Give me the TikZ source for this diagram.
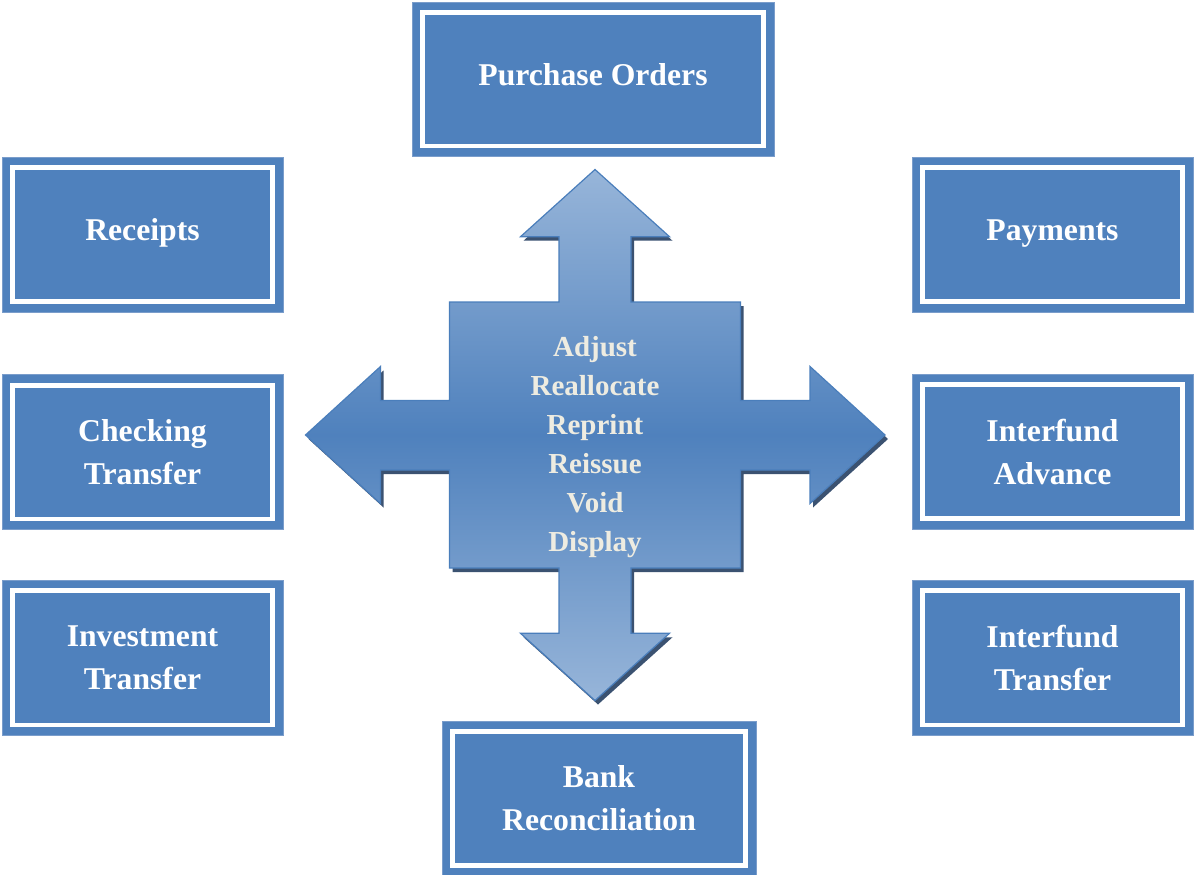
\documentclass[tikz,border=0pt]{standalone}
\usepackage{fontspec}
\setmainfont{Liberation Serif}
\definecolor{boxblue}{HTML}{4F81BD}
\definecolor{boxedge}{HTML}{7A9DCB}
\definecolor{tipblue}{HTML}{97B5D9}
\definecolor{shadowblue}{HTML}{263F62}
\definecolor{edgeblue}{HTML}{4A7EBB}
\definecolor{cream}{HTML}{EEECE1}
\tikzset{
  mybox/.style={fill=boxblue, draw=boxedge, line width=0.8pt, text=white,
    font=\bfseries\fontsize{31.7}{43}\selectfont, align=center, inner sep=0pt},
  oneline/.style={text depth=9pt},
  whiteframe/.style={draw=white, line width=4.3pt},
  crossstyle/.style={top color=tipblue, bottom color=tipblue, middle color=boxblue,
    draw=edgeblue, line width=1.2pt,
    preaction={fill=shadowblue, opacity=0.9, transform canvas={xshift=3pt,yshift=-4pt}}},
  optext/.style={font=\bfseries\fontsize{29}{39}\selectfont, text=cream, align=center, inner sep=0pt}
}
\begin{document}
\begin{tikzpicture}[x=1pt,y=-1pt]
\useasboundingbox (0,0) rectangle (1194,875);
% outer boxes
\node[mybox, oneline, minimum width=362pt, minimum height=154.5pt] (po) at (593,79.25) {Purchase Orders};
\node[mybox, oneline, minimum width=281pt, minimum height=155pt] (rc) at (142.5,234.5) {Receipts};
\node[mybox, oneline, minimum width=281pt, minimum height=155pt] (pa) at (1052.5,234.5) {Payments};
\node[mybox, minimum width=281pt, minimum height=154.5pt] (ct) at (142.5,452) {Checking\\Transfer};
\node[mybox, minimum width=281pt, minimum height=155pt] (ia) at (1052.5,451.5) {Interfund\\Advance};
\node[mybox, minimum width=281pt, minimum height=155.5pt] (it) at (142.5,657.75) {Investment\\Transfer};
\node[mybox, minimum width=281pt, minimum height=155.5pt] (ift) at (1052.5,657.75) {Interfund\\Transfer};
\node[mybox, minimum width=314pt, minimum height=155pt] (br) at (599,798.5) {Bank\\Reconciliation};
\foreach \n in {po,rc,pa,ct,ia,it,ift,br}
  \draw[whiteframe] ([shift={(11,11)}]\n.north west) rectangle ([shift={(-11,-11)}]\n.south east);
% central four-way arrow
\path[crossstyle]
  (595,169.5) -- (669.5,236.7) -- (631,236.7) -- (631,302) -- (740.5,302) -- (740.5,400.5)
  -- (810,400.5) -- (810,366.5) -- (885,435) -- (810,503.5) -- (810,470) -- (740.5,470)
  -- (740.5,568) -- (631,568) -- (631,633.3) -- (669.5,633.3) -- (595,700.5) -- (520.5,633.3)
  -- (559,633.3) -- (559,568) -- (449.5,568) -- (449.5,470) -- (380.5,470) -- (380.5,503.5)
  -- (305.5,435) -- (380.5,366.5) -- (380.5,400.5) -- (449.5,400.5) -- (449.5,302)
  -- (559,302) -- (559,236.7) -- (520.5,236.7) -- cycle;
\node[optext] (ops) at (595,447) {Adjust\\Reallocate\\Reprint\\Reissue\\Void\\Display};
\end{tikzpicture}
\end{document}
